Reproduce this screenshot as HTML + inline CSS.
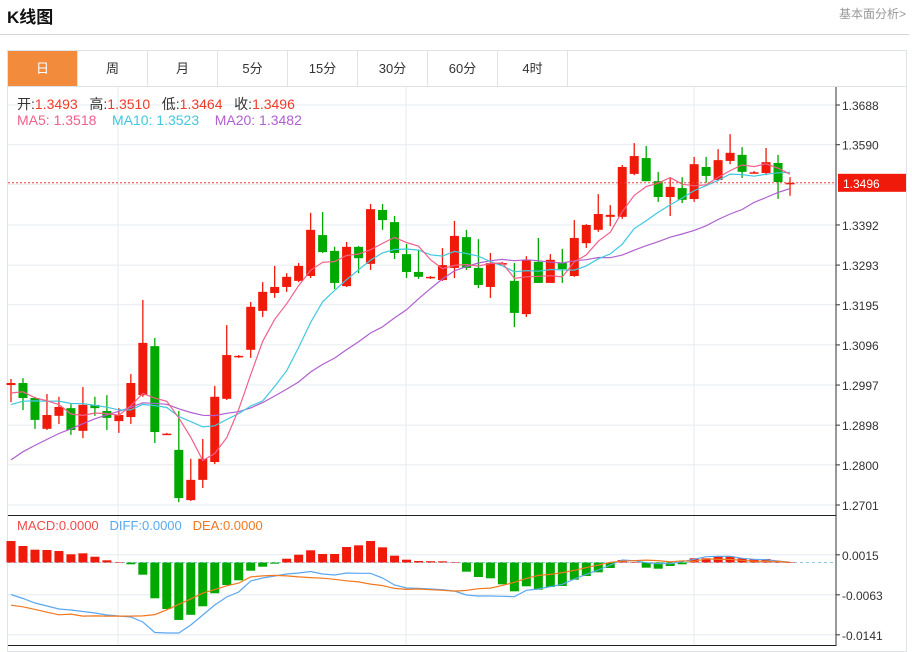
<!DOCTYPE html>
<html><head><meta charset="utf-8"><style>
body{margin:0;width:912px;height:648px;background:#fff;font-family:"Liberation Sans","Noto Sans CJK SC",sans-serif;position:relative;overflow:hidden}
.t{position:absolute;white-space:nowrap}
.tab{position:absolute;top:51px;height:35px;width:69px;border-right:1px solid #dfe3e6;text-align:center;line-height:35px;font-size:13px;color:#333}
</style></head><body>
<div class="t" style="left:7px;top:3px;font-size:17px;font-weight:bold;color:#111">K线图</div>
<div class="t" style="left:839px;top:5px;font-size:12px;color:#999">基本面分析&gt;</div>
<div style="position:absolute;left:0;top:34px;width:909px;height:1px;background:#d4d7da"></div>
<div style="position:absolute;left:7px;top:50px;width:898px;height:600px;border:1px solid #dfe3e6"></div>
<div style="position:absolute;left:8px;top:86px;width:898px;height:1px;background:#dfe3e6"></div>
<div class="tab" style="left:8px;background:#f28c3c;color:#fff">日</div>
<div class="tab" style="left:78px">周</div>
<div class="tab" style="left:148px">月</div>
<div class="tab" style="left:218px">5分</div>
<div class="tab" style="left:288px">15分</div>
<div class="tab" style="left:358px">30分</div>
<div class="tab" style="left:428px">60分</div>
<div class="tab" style="left:498px">4时</div>
<svg id="c" width="912" height="648" style="position:absolute;left:0;top:0" font-family="Liberation Sans, Noto Sans CJK SC, sans-serif"></svg>
<div class="t" style="left:17px;top:94px;font-size:14px;color:#333">开:<span style="color:#f03a2a">1.3493</span>&nbsp;&nbsp; 高:<span style="color:#f03a2a">1.3510</span>&nbsp;&nbsp; 低:<span style="color:#f03a2a">1.3464</span>&nbsp;&nbsp; 收:<span style="color:#f03a2a">1.3496</span></div>
<div class="t" style="left:17px;top:112px;font-size:14px"><span style="color:#f0608a">MA5: 1.3518</span>&nbsp;&nbsp;&nbsp; <span style="color:#40c8e0">MA10: 1.3523</span>&nbsp;&nbsp;&nbsp; <span style="color:#b060d0">MA20: 1.3482</span></div>
<div class="t" style="left:17px;top:518px;font-size:13px"><span style="color:#f04a4a">MACD:0.0000</span>&nbsp;&nbsp; <span style="color:#5aa8f0">DIFF:0.0000</span>&nbsp;&nbsp; <span style="color:#f07820">DEA:0.0000</span></div>
<script>
const opens=[1.2997,1.3002,1.2965,1.2889,1.2921,1.2940,1.2884,1.2948,1.2933,1.2908,1.2918,1.2972,1.3093,1.2876,1.2837,1.2713,1.2763,1.2807,1.2963,1.3066,1.3084,1.3180,1.3224,1.3239,1.3254,1.3266,1.3367,1.3328,1.3241,1.3338,1.3296,1.3429,1.3399,1.3320,1.3276,1.3261,1.3256,1.3286,1.3362,1.3286,1.3239,1.3296,1.3254,1.3172,1.3301,1.3249,1.3298,1.3266,1.3347,1.3380,1.3412,1.3412,1.3518,1.3557,1.3500,1.3461,1.3483,1.3456,1.3535,1.3503,1.3550,1.3565,1.3522,1.3520,1.3545,1.3493];
const highs=[1.3012,1.3014,1.2968,1.2975,1.2968,1.2950,1.2992,1.2968,1.2972,1.2940,1.3024,1.3207,1.3113,1.2879,1.2933,1.2815,1.2864,1.2995,1.3145,1.3071,1.3202,1.3251,1.3291,1.3273,1.3298,1.3422,1.3424,1.3338,1.3350,1.3340,1.3444,1.3444,1.3414,1.3345,1.3330,1.3266,1.3335,1.3402,1.3380,1.3357,1.3323,1.3301,1.3298,1.3315,1.3360,1.3320,1.3333,1.3404,1.3394,1.3468,1.3441,1.3540,1.3594,1.3587,1.3523,1.3508,1.3510,1.3560,1.3560,1.3579,1.3616,1.3584,1.3525,1.3582,1.3565,1.3510];
const lows=[1.2955,1.2935,1.2889,1.2886,1.2901,1.2874,1.2866,1.2921,1.2886,1.2879,1.2901,1.2968,1.2854,1.2874,1.2708,1.2711,1.2743,1.2802,1.2960,1.3064,1.3064,1.3165,1.3212,1.3227,1.3251,1.3261,1.3323,1.3234,1.3239,1.3273,1.3281,1.3380,1.3308,1.3261,1.3259,1.3259,1.3254,1.3261,1.3281,1.3236,1.3212,1.3296,1.3140,1.3165,1.3249,1.3249,1.3249,1.3264,1.3335,1.3375,1.3389,1.3407,1.3515,1.3500,1.3449,1.3414,1.3446,1.3449,1.3496,1.3500,1.3542,1.3508,1.3520,1.3515,1.3456,1.3464];
const closes=[1.3002,1.2965,1.2911,1.2923,1.2943,1.2886,1.2948,1.2940,1.2916,1.2923,1.3002,1.3101,1.2881,1.2877,1.2718,1.2763,1.2815,1.2968,1.3071,1.3069,1.3190,1.3227,1.3239,1.3264,1.3291,1.3380,1.3325,1.3249,1.3338,1.3310,1.3431,1.3404,1.3323,1.3276,1.3264,1.3264,1.3293,1.3365,1.3286,1.3244,1.3298,1.3298,1.3175,1.3306,1.3249,1.3306,1.3283,1.3360,1.3392,1.3419,1.3417,1.3535,1.3562,1.3500,1.3461,1.3486,1.3454,1.3542,1.3513,1.3552,1.3570,1.3523,1.3522,1.3547,1.3498,1.3496];
const priorCloses=[1.2560,1.2600,1.2630,1.2650,1.2660,1.2690,1.2700,1.2720,1.2750,1.2800,1.2880,1.2905,1.2930,1.2940,1.2945,1.2950,1.2985,1.2960,1.2990];
const macdHist=[41.9,32.2,25,24.4,22.4,16,17.9,11.3,4.3,0.6,-3.5,-23.8,-69.8,-90.7,-112,-102,-85.4,-60,-43.9,-34.7,-16,-8.2,-2.3,7.4,15.2,23.8,16.6,16.6,30.2,33.5,41.9,29.6,13.3,5.5,2.9,2.5,2.3,0.4,-17.9,-28.3,-30.8,-42.5,-56.2,-46.4,-53,-47.8,-45.8,-33.5,-26.3,-19.1,-10.7,4.9,0,-10.1,-12.1,-6.8,-3.5,8.2,8.2,12.1,12.1,8.2,6.8,6.8,1.6,0];
const difValues=[-62.4,-70.2,-79,-84.8,-90.7,-92.6,-95.6,-98.5,-102.4,-104.3,-106.3,-116,-136.5,-137.5,-137.5,-121.9,-102.4,-82.9,-67.3,-57.5,-36.1,-30.2,-26.3,-22.4,-20.5,-17.6,-22.4,-24.4,-20.5,-21.1,-21.1,-30.2,-43.9,-49.7,-50.3,-51.7,-53,-55.6,-63.4,-65.3,-65.3,-65.9,-66.7,-54.2,-51.7,-47.2,-42.5,-32.2,-23,-14.6,-4.9,4.9,3.5,-0.4,-2.3,-2.3,1.6,6.2,11.3,12.1,12.1,8.2,6.2,5.5,2.9,0.4];
const priceTicks=[1.3688,1.3590,1.3492,1.3392,1.3293,1.3195,1.3096,1.2997,1.2898,1.2800,1.2701];
const priceTickLabels=["1.3688","1.3590","","1.3392","1.3293","1.3195","1.3096","1.2997","1.2898","1.2800","1.2701"];
const macdTicks=[0.0015,-0.0063,-0.0141];
const lastPrice=1.3496;

const S=document.getElementById('c');
const NS='http://www.w3.org/2000/svg';
function mk(tag,attrs,parent){const e=document.createElementNS(NS,tag);for(const k in attrs)e.setAttribute(k,attrs[k]);(parent||S).appendChild(e);return e;}
const X=i=>11+i*11.985;
const Y=p=>105+(1.3688-p)*4052.7;
const MY=v=>562.5-v*5128;
const L=8,R=836;
priceTicks.forEach((p,i)=>{const g=mk('line',{x1:L,x2:R,y1:Y(p),y2:Y(p),stroke:'#e6ecf0'});

if(priceTickLabels[i]){const tk=mk('line',{x1:R,x2:R+4,y1:Y(p),y2:Y(p),stroke:'#333'});

const t=mk('text',{x:842,y:Y(p)+5,'font-size':12,fill:'#333'});t.textContent=priceTickLabels[i];
}});
macdTicks.forEach(v=>{const g=mk('line',{x1:L,x2:R,y1:MY(v),y2:MY(v),stroke:'#e6ecf0'});

const tk=mk('line',{x1:R,x2:R+4,y1:MY(v),y2:MY(v),stroke:'#333'});

const t=mk('text',{x:842,y:MY(v)+5,'font-size':12,fill:'#333'});t.textContent=v.toFixed(4);
});
[118,406,694].forEach(x=>{const g=mk('line',{x1:x,x2:x,y1:87,y2:645,stroke:'#e6ecf0'});
});
const ax=mk('line',{x1:R,x2:R,y1:87,y2:646,stroke:'#333'});

const dv=mk('line',{x1:L,x2:R,y1:515.5,y2:515.5,stroke:'#222'});

const bt=mk('line',{x1:L,x2:R,y1:645.5,y2:645.5,stroke:'#222'});

const RED='#f01a0a',GRN='#00a800';
closes.forEach((c,i)=>{const o=opens[i];const up=c>=o;const col=up?RED:GRN;const x=X(i);
const w=mk('line',{x1:x,x2:x,y1:Y(highs[i]),y2:Y(lows[i]),stroke:col,'stroke-width':1.3});

const top=Y(Math.max(o,c)),h=Math.max(1.5,Math.abs(Y(o)-Y(c)));
const b=mk('rect',{x:x-4.5,y:top,width:9,height:h,fill:col});
});
const all=priorCloses.concat(closes);
function ma(n){return closes.map((c,i)=>{const j=i+priorCloses.length;let s=0;for(let k=j-n+1;k<=j;k++)s+=all[k];return s/n;});}
[[20,'#b060d0','ma20-line'],[10,'#40c8e0','ma10-line'],[5,'#f0608a','ma5-line']].forEach(([n,col,name])=>{
const v=ma(n);const pts=v.map((p,i)=>X(i).toFixed(1)+','+Y(p).toFixed(1)).join(' ');
const pl=mk('polyline',{points:pts,fill:'none',stroke:col,'stroke-width':1.2});
});
const lp=mk('line',{x1:L,x2:R,y1:Y(lastPrice),y2:Y(lastPrice),stroke:'#f04040','stroke-dasharray':'2,2'});

const lb=mk('rect',{x:838,y:Y(lastPrice)-9,width:68,height:18,fill:'#f01a0a'});

const lt=mk('text',{x:843,y:Y(lastPrice)+5,'font-size':12,fill:'#fff'});lt.textContent=lastPrice.toFixed(4);

const zl=mk('line',{x1:L,x2:R,y1:MY(0),y2:MY(0),stroke:'#8cc8e8','stroke-dasharray':'3,3'});

macdHist.forEach((h,i)=>{const v=h/10000;const y0=MY(0),y1=MY(v);
const r=mk('rect',{x:X(i)-4.5,y:Math.min(y0,y1),width:9,height:Math.max(0.5,Math.abs(y1-y0)),fill:v>=0?RED:GRN});
});
const dif=difValues.map(v=>v/10000);
const dea=dif.map((d,i)=>d-macdHist[i]/20000);
const dl=mk('polyline',{points:dif.map((v,i)=>X(i).toFixed(1)+','+MY(v).toFixed(1)).join(' '),fill:'none',stroke:'#5aa8f0','stroke-width':1.2});

const el=mk('polyline',{points:dea.map((v,i)=>X(i).toFixed(1)+','+MY(v).toFixed(1)).join(' '),fill:'none',stroke:'#f07820','stroke-width':1.2});

</script>
</body></html>
